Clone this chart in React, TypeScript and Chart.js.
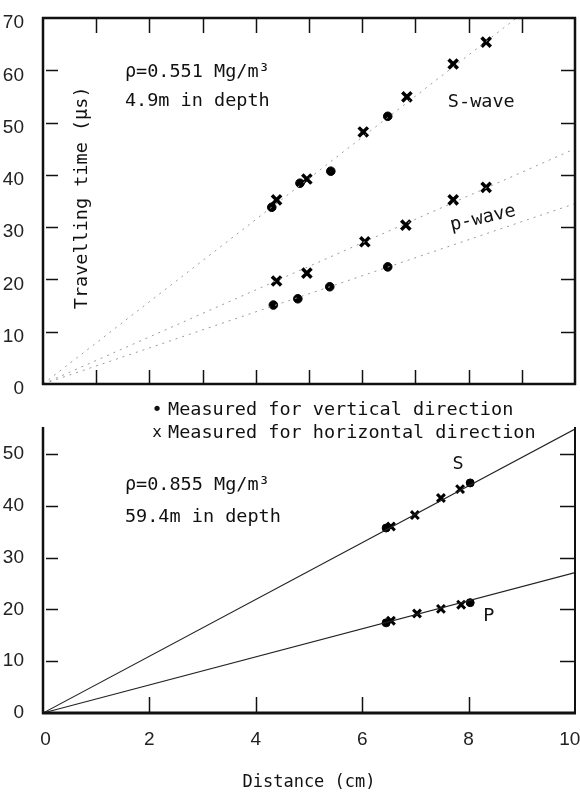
import React, { useEffect, useRef } from "react";
import { Chart, registerables } from "chart.js";

Chart.register(...registerables);

// ---- Top panel (ρ=0.551) ----
const topSVerticalX = [4.30, 4.83, 5.41, 6.48];
const topSVerticalY = [33.8, 38.4, 40.7, 51.2];
const topSHorizontalX = [4.39, 4.96, 6.02, 6.84, 7.71, 8.33];
const topSHorizontalY = [35.2, 39.2, 48.2, 54.9, 61.2, 65.4];
const topPHorizontalX = [4.39, 4.96, 6.05, 6.82, 7.71, 8.33];
const topPHorizontalY = [19.7, 21.2, 27.2, 30.4, 35.2, 37.6];
const topPVerticalX = [4.33, 4.79, 5.39, 6.48];
const topPVerticalY = [15.1, 16.3, 18.6, 22.4];
const topSFitX = [0, 8.9];
const topSFitY = [0, 70];
const topPHFitX = [0, 10];
const topPHFitY = [0, 45];
const topPVFitX = [0, 10];
const topPVFitY = [0, 34.5];

// ---- Bottom panel (ρ=0.855) ----
const botSVerticalX = [6.45, 8.03];
const botSVerticalY = [35.7, 44.4];
const botSHorizontalX = [6.54, 6.99, 7.48, 7.84];
const botSHorizontalY = [36.0, 38.2, 41.5, 43.2];
const botPVerticalX = [6.45, 8.03];
const botPVerticalY = [17.4, 21.3];
const botPHorizontalX = [6.54, 7.03, 7.48, 7.86];
const botPHorizontalY = [17.8, 19.2, 20.1, 20.9];
const botSFitX = [0, 10];
const botSFitY = [0, 54.8];
const botPFitX = [0, 10];
const botPFitY = [0, 27.1];

const xTickLabels = ["0", "2", "4", "6", "8", "10"];

const MONO = "'DejaVu Sans Mono', monospace";
const TICKFONT = "'Liberation Sans', sans-serif";
const TEXTFONT = `18.5px ${MONO}`;

const pts = (xs: number[], ys: number[]) => xs.map((x, i) => ({ x, y: ys[i] }));

const dotStyle = (r: number) => ({
  pointStyle: "circle",
  pointRadius: r,
  pointBackgroundColor: "#000",
  pointBorderColor: "#000",
  pointBorderWidth: 1,
  showLine: false,
});
const crossStyle = (r: number, w: number) => ({
  pointStyle: "crossRot",
  pointRadius: r,
  pointBorderColor: "#000",
  pointBorderWidth: w,
  showLine: false,
});
const fitStyle = (color: string, dash: number[], w: number) => ({
  showLine: true,
  borderColor: color,
  borderWidth: w,
  borderDash: dash,
  pointRadius: 0,
  fill: false,
});

const noPad = (s: any) => {
  s.paddingLeft = 0;
  s.paddingRight = 0;
  s.paddingTop = 0;
  s.paddingBottom = 0;
};

type TextItem = { text: string; x: number; y: number; align?: CanvasTextAlign; rot?: number; font?: string; px?: boolean };

function makeDecorPlugin(cfg: {
  frame: { top?: number; bottom?: number; left?: number; right?: number };
  ticks: { top?: number; bottom?: number; left?: number; right?: number };
  texts: TextItem[];
}) {
  return {
    id: "decor",
    afterDraw(chart: any) {
      const ctx = chart.ctx;
      const { left, right, top, bottom } = chart.chartArea;
      const xs = chart.scales.x;
      const ys = chart.scales.y;
      ctx.save();
      ctx.strokeStyle = "#111";
      ctx.lineWidth = 1.5;
      const xv = xs.ticks.map((t: any) => t.value).filter((v: number) => v > xs.min && v < xs.max);
      const yv = ys.ticks.map((t: any) => t.value).filter((v: number) => v > ys.min && v < ys.max);
      xv.forEach((v: number) => {
        const p = Math.round(xs.getPixelForValue(v)) + 0.5;
        if (cfg.ticks.top) {
          ctx.beginPath(); ctx.moveTo(p, top); ctx.lineTo(p, top + cfg.ticks.top); ctx.stroke();
        }
        if (cfg.ticks.bottom) {
          ctx.beginPath(); ctx.moveTo(p, bottom); ctx.lineTo(p, bottom - cfg.ticks.bottom); ctx.stroke();
        }
      });
      yv.forEach((v: number) => {
        const p = Math.round(ys.getPixelForValue(v)) + 0.5;
        if (cfg.ticks.left) {
          ctx.beginPath(); ctx.moveTo(left + 3, p); ctx.lineTo(left + 3 + cfg.ticks.left, p); ctx.stroke();
        }
        if (cfg.ticks.right) {
          ctx.beginPath(); ctx.moveTo(right, p); ctx.lineTo(right - cfg.ticks.right, p); ctx.stroke();
        }
      });
      const f = cfg.frame;
      const line = (x1: number, y1: number, x2: number, y2: number, w: number) => {
        ctx.lineWidth = w;
        ctx.beginPath(); ctx.moveTo(x1, y1); ctx.lineTo(x2, y2); ctx.stroke();
      };
      if (f.top) line(left - 1, top, right + 1, top, f.top);
      if (f.bottom) line(left - 1, bottom, right + 1, bottom, f.bottom);
      if (f.left) line(left, top - 1, left, bottom + 1, f.left);
      if (f.right) line(right, top - 1, right, bottom + 1, f.right);
      ctx.fillStyle = "#111";
      ctx.textBaseline = "middle";
      cfg.texts.forEach((t) => {
        const px = t.px ? t.x : xs.getPixelForValue(t.x);
        const py = t.px ? t.y : ys.getPixelForValue(t.y);
        ctx.save();
        ctx.translate(px, py);
        if (t.rot) ctx.rotate((t.rot * Math.PI) / 180);
        ctx.font = t.font || TEXTFONT;
        ctx.textAlign = t.align || "left";
        ctx.fillText(t.text, 0, 0);
        ctx.restore();
      });
      ctx.restore();
    },
  };
}

function TopChart() {
  const ref = useRef<HTMLCanvasElement>(null);
  useEffect(() => {
    const chart = new Chart(ref.current!, {
      type: "scatter",
      data: {
        datasets: [
          { data: pts(topSFitX, topSFitY), ...fitStyle("#9a9a9a", [2, 5], 1) },
          { data: pts(topPHFitX, topPHFitY), ...fitStyle("#9a9a9a", [2, 5], 1) },
          { data: pts(topPVFitX, topPVFitY), ...fitStyle("#9a9a9a", [2, 5], 1) },
          { data: pts(topSVerticalX, topSVerticalY), ...dotStyle(4.3) },
          { data: pts(topSHorizontalX, topSHorizontalY), ...crossStyle(6.5, 3.5) },
          { data: pts(topPHorizontalX, topPHorizontalY), ...crossStyle(6.5, 3.5) },
          { data: pts(topPVerticalX, topPVerticalY), ...dotStyle(4.3) },
        ] as any,
      },
      options: {
        animation: false,
        responsive: false,
        devicePixelRatio: 1,
        layout: { autoPadding: false, padding: { top: 18, right: 5, bottom: 11, left: 0 } },
        plugins: { legend: { display: false }, tooltip: { enabled: false } },
        scales: {
          x: {
            type: "linear",
            min: 0,
            max: 10,
            ticks: { display: false, stepSize: 1 },
            grid: { display: false },
            border: { display: false },
            afterFit: (s: any) => { s.height = 0; noPad(s); },
          },
          y: {
            type: "linear",
            min: 0,
            max: 70,
            ticks: {
              stepSize: 10,
              padding: 11,
              labelOffset: 5,
              color: "#222",
              font: { family: TICKFONT, size: 19 },
            },
            grid: { display: false },
            border: { display: false },
            afterFit: (s: any) => { s.width = 43; noPad(s); },
          },
        },
      } as any,
      plugins: [
        makeDecorPlugin({
          frame: { top: 2.5, bottom: 2.5, left: 2.5, right: 2.5 },
          ticks: { top: 15, bottom: 14, left: 12, right: 14 },
          texts: [
            { text: "ρ=0.551 Mg/m³", x: 1.54, y: 59.7 },
            { text: "4.9m in depth", x: 1.54, y: 54.1 },
            { text: "S-wave", x: 7.61, y: 53.9 },
            { text: "p-wave", x: 8.27, y: 31.7, align: "center", rot: -13 },
            { text: "Travelling time (μs)", x: 0.73, y: 35.6, align: "center", rot: -90 },
          ],
        }),
      ],
    });
    return () => chart.destroy();
  }, []);
  return <canvas ref={ref} width={580} height={395} style={{ display: "block" }} />;
}

function BottomChart() {
  const ref = useRef<HTMLCanvasElement>(null);
  useEffect(() => {
    const chart = new Chart(ref.current!, {
      type: "scatter",
      data: {
        datasets: [
          { data: pts(botSFitX, botSFitY), ...fitStyle("#222", [], 1.1) },
          { data: pts(botPFitX, botPFitY), ...fitStyle("#222", [], 1.1) },
          { data: pts(botSVerticalX, botSVerticalY), ...dotStyle(4) },
          { data: pts(botSHorizontalX, botSHorizontalY), ...crossStyle(5.5, 3) },
          { data: pts(botPVerticalX, botPVerticalY), ...dotStyle(4) },
          { data: pts(botPHorizontalX, botPHorizontalY), ...crossStyle(5.5, 3) },
        ] as any,
      },
      options: {
        animation: false,
        responsive: false,
        devicePixelRatio: 1,
        layout: { autoPadding: false, padding: { top: 33, right: 5, bottom: 0, left: 0 } },
        plugins: { legend: { display: false }, tooltip: { enabled: false } },
        scales: {
          x: {
            type: "linear",
            min: 0,
            max: 10,
            ticks: {
              stepSize: 1,
              padding: 7,
              maxRotation: 0,
              autoSkip: false,
              color: "#222",
              font: { family: TICKFONT, size: 19 },
              callback: (v: number) => {
                if (v % 2 !== 0) return null;
                const lab = xTickLabels[v / 2];
                if (v === 0) return " " + lab;
                if (v === 10) return lab + "  ";
                return lab;
              },
            },
            grid: { display: false },
            border: { display: false },
            title: {
              display: true,
              text: "Distance (cm)",
              color: "#111",
              font: { family: MONO, size: 17 },
              padding: { top: 0, bottom: 0 },
            },
            afterFit: (s: any) => { s.height = 80; noPad(s); },
          },
          y: {
            type: "linear",
            min: 0,
            max: 55,
            ticks: {
              stepSize: 10,
              includeBounds: false,
              padding: 11,
              color: "#222",
              font: { family: TICKFONT, size: 19 },
            },
            grid: { display: false },
            border: { display: false },
            afterFit: (s: any) => { s.width = 43; noPad(s); },
          },
        },
      } as any,
      plugins: [
        makeDecorPlugin({
          frame: { bottom: 3, left: 2.5, right: 2 },
          ticks: { bottom: 16, left: 12, right: 15 },
          texts: [
            { text: "•", x: 157, y: 15, align: "center", px: true },
            { text: "Measured for vertical direction", x: 168, y: 15, px: true },
            { text: "x", x: 157, y: 38, align: "center", px: true, font: `16px ${MONO}` },
            { text: "Measured for horizontal direction", x: 168, y: 38, px: true },
            { text: "ρ=0.855 Mg/m³", x: 1.54, y: 44.0 },
            { text: "59.4m in depth", x: 1.54, y: 37.8 },
            { text: "S", x: 7.8, y: 48.1, align: "center" },
            { text: "P", x: 8.38, y: 18.6, align: "center" },
          ],
        }),
      ],
    });
    return () => chart.destroy();
  }, []);
  return <canvas ref={ref} width={580} height={398} style={{ display: "block" }} />;
}

export default function App() {
  return (
    <div style={{ position: "absolute", left: 0, top: 0, width: 580, height: 793, background: "#fff" }}>
      <TopChart />
      <BottomChart />
    </div>
  );
}
